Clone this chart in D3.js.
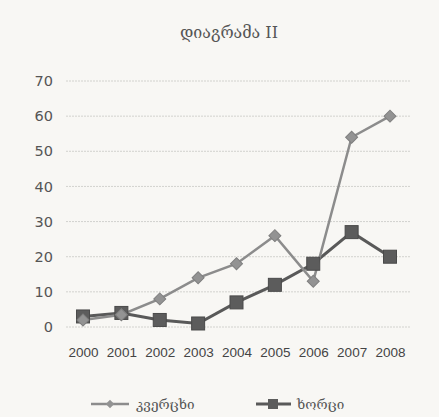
<!DOCTYPE html>
<html>
<head>
<meta charset="utf-8">
<script src="https://cdn.jsdelivr.net/npm/d3@7"></script>
<style>
  html, body { margin: 0; padding: 0; background: #f8f7f4; }
  svg { display: block; }
</style>
</head>
<body>
<svg id="chart" width="439" height="417"></svg>
<script>
// Annual figures, 2000–2008
const years = ["2000", "2001", "2002", "2003", "2004", "2005", "2006", "2007", "2008"];
const eggs = [2, 3.5, 8, 14, 18, 26, 13, 54, 60];   // კვერცხი
const meat = [3, 4, 2, 1, 7, 12, 18, 27, 20];       // ხორცი
const yTicks = [0, 10, 20, 30, 40, 50, 60, 70];
const seriesNames = ["კვერცხი", "ხორცი"];

const svg = d3.select("#chart");
const W = 439, H = 417;
const margin = { left: 66, right: 29, top: 81, bottom: 90 };

svg.append("rect").attr("width", W).attr("height", H).attr("fill", "#f8f7f4");

const x = d3.scalePoint().domain(years).range([83, 390]);
const y = d3.scaleLinear().domain([0, 70]).range([327, 81]);

// Title
svg.append("text")
  .attr("x", 229).attr("y", 38)
  .attr("text-anchor", "middle")
  .attr("font-family", "'DejaVu Serif', serif")
  .attr("font-size", 16)
  .attr("fill", "#555")
  .text("დიაგრამა II");

// Horizontal gridlines
svg.append("g")
  .selectAll("line")
  .data(yTicks)
  .join("line")
  .attr("x1", margin.left).attr("x2", W - margin.right)
  .attr("y1", d => y(d)).attr("y2", d => y(d))
  .attr("stroke", "#d2d2ce")
  .attr("stroke-width", 1)
  .attr("stroke-dasharray", "2,1");

// Y axis labels
const yAxis = d3.axisLeft(y).tickValues(yTicks).tickSize(0).tickPadding(0);
svg.append("g")
  .attr("transform", "translate(53,0)")
  .call(yAxis)
  .call(g => g.select(".domain").remove())
  .call(g => g.selectAll("text")
    .attr("font-family", "'DejaVu Sans', sans-serif")
    .attr("font-size", 14.5)
    .attr("fill", "#555"));

// X axis labels
const xAxis = d3.axisBottom(x).tickSize(0).tickPadding(0);
svg.append("g")
  .attr("transform", "translate(0,347)")
  .call(xAxis)
  .call(g => g.select(".domain").remove())
  .call(g => g.selectAll("text")
    .attr("font-family", "'Liberation Sans', Arial, sans-serif")
    .attr("font-size", 13.5)
    .attr("fill", "#444"));

const line = d3.line().x((d, i) => x(years[i])).y(d => y(d));

const eggColor = "#8c8c8c";
const meatColor = "#595959";

// Meat series (squares)
svg.append("path")
  .datum(meat)
  .attr("d", line)
  .attr("fill", "none")
  .attr("stroke", meatColor)
  .attr("stroke-width", 3);

// Egg series (diamonds)
svg.append("path")
  .datum(eggs)
  .attr("d", line)
  .attr("fill", "none")
  .attr("stroke", eggColor)
  .attr("stroke-width", 2.5);

const sq = 13;
svg.append("g")
  .selectAll("rect")
  .data(meat)
  .join("rect")
  .attr("x", (d, i) => x(years[i]) - sq / 2)
  .attr("y", d => y(d) - sq / 2)
  .attr("width", sq).attr("height", sq)
  .attr("fill", "#5c5c5c")
  .attr("stroke", "#4a4a4a")
  .attr("stroke-width", 1);

// Square markers turned 45° give even-sided diamonds
const diamond = d3.symbol().type(d3.symbolSquare).size(72);
svg.append("g")
  .selectAll("path")
  .data(eggs)
  .join("path")
  .attr("d", diamond)
  .attr("transform", (d, i) => `translate(${x(years[i])},${y(d)}) rotate(45)`)
  .attr("fill", "#939393")
  .attr("stroke", "#7f7f7f")
  .attr("stroke-width", 1);

// Legend
const legend = svg.append("g").attr("transform", "translate(0,404)");
// eggs entry
legend.append("line").attr("x1", 91).attr("x2", 129).attr("y1", 0).attr("y2", 0)
  .attr("stroke", eggColor).attr("stroke-width", 2.5);
legend.append("path").attr("d", d3.symbol().type(d3.symbolSquare).size(36))
  .attr("transform", "translate(110,0) rotate(45)").attr("fill", "#939393");
legend.append("text").attr("x", 136).attr("y", 5)
  .attr("font-family", "'DejaVu Serif', serif").attr("font-size", 13.5).attr("fill", "#555")
  .text(seriesNames[0]);
// meat entry
legend.append("line").attr("x1", 256).attr("x2", 291).attr("y1", 0).attr("y2", 0)
  .attr("stroke", meatColor).attr("stroke-width", 3);
legend.append("rect").attr("x", 268).attr("y", -5).attr("width", 10).attr("height", 10)
  .attr("fill", "#5c5c5c");
legend.append("text").attr("x", 297).attr("y", 5)
  .attr("font-family", "'DejaVu Serif', serif").attr("font-size", 13.5).attr("fill", "#555")
  .text(seriesNames[1]);
</script>
</body>
</html>
